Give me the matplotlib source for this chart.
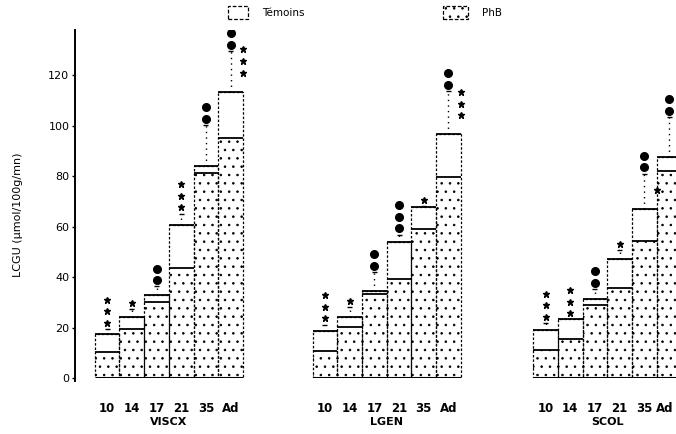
import matplotlib
matplotlib.use("Agg")
import matplotlib.pyplot as plt
from matplotlib.patches import Rectangle
from matplotlib.transforms import ScaledTranslation
import numpy as np

plt.rcParams['font.family'] = ['DejaVu Sans']
plt.rcParams['hatch.linewidth'] = 0.6

groups = ["VISCX", "LGEN", "SCOL"]
ages = ["10", "14", "17", "21", "35", "Ad"]

# Témoins (controls) and PhB means, LCGU µmol/100g/mn
temoins = {
    "VISCX": [17.4, 24.2, 32.8, 60.7, 84.2, 113.6],
    "LGEN":  [18.7, 24.0, 34.5, 53.9, 67.7, 96.7],
    "SCOL":  [19.2, 23.2, 31.2, 47.3, 67.0, 87.5],
}
phb = {
    "VISCX": [10.4, 19.6, 30.2, 43.6, 81.1, 95.1],
    "LGEN":  [10.8, 20.3, 33.5, 39.1, 58.9, 79.6],
    "SCOL":  [11.0, 15.5, 28.9, 35.7, 54.3, 82.2],
}
# error (dotted) above Témoins bars
err = {
    "VISCX": [2.0, 3.0, 3.5, 4.5, 16.0, 16.0],
    "LGEN":  [2.5, 4.0, 7.5, 3.0, 0.5, 17.0],
    "SCOL":  [2.5, 0.0, 4.0, 3.5, 14.0, 16.0],
}
# significance symbols: count of large dots and small stars per bar
n_dots = {
    "VISCX": [0, 0, 2, 0, 2, 2],
    "LGEN":  [0, 0, 2, 3, 0, 2],
    "SCOL":  [0, 0, 2, 0, 2, 2],
}
n_stars = {
    "VISCX": [3, 1, 0, 3, 0, 3],
    "LGEN":  [3, 1, 0, 0, 1, 3],
    "SCOL":  [3, 3, 0, 1, 1, 0],
}

W, H = 676, 434
fig = plt.figure(figsize=(W / 100, H / 100), dpi=100)
ax = fig.add_axes([75 / W, 56 / H, (W - 75) / W, 348 / H])

group_start = [0.8, 9.62, 18.55]
bw = 1.0
spacing = 4.6
gap = 2.5

centers_all = []
labels_all = []
for g, gname in enumerate(groups):
    x0 = group_start[g]
    xs = x0 + np.arange(len(ages)) * bw + bw / 2
    T = np.array(temoins[gname])
    P = np.array(phb[gname])
    # Témoins (open) bars
    ax.bar(xs, T, width=bw, color="white", linewidth=0, zorder=1)
    ax.bar(xs, T, width=bw, fill=False, edgecolor="black", linewidth=0.9,
           linestyle=(0, (2, 1.5)), zorder=4)
    # PhB stippled bars
    ax.bar(xs, P, width=bw, color="white", edgecolor="black", hatch="..",
           linewidth=0, zorder=2)
    # solid top lines
    ax.hlines(T, xs - bw / 2, xs + bw / 2, color="black", linewidth=1.3, zorder=5)
    ax.hlines(P, xs - bw / 2, xs + bw / 2, color="black", linewidth=1.3, zorder=5)
    # baseline
    ax.hlines(0, x0, x0 + len(ages) * bw, color="black", linewidth=2.2, zorder=6)
    for i in range(len(ages)):
        t = T[i]
        e = err[gname][i]
        nd = n_dots[gname][i]
        ns = n_stars[gname][i]
        xc = xs[i]
        two = nd > 0 and ns > 0
        # dotted error bar with cap
        if e > 0:
            ax.vlines(xc, t, t + e, color="black", linewidth=1.0,
                      linestyles=(0, (1, 3)), zorder=5)
            ax.hlines(t + e, xc - 0.1, xc + 0.1, color="black", linewidth=1.0, zorder=5)
        # main column
        ybase = t + e + gap
        if nd > 0:
            yy = ybase + np.arange(nd) * spacing
            ax.plot([xc] * nd, yy, "o", color="black", markersize=5.5,
                    linestyle="none", zorder=6)
        if ns > 0:
            if two:
                xs_s = xc + 0.5
                ys0 = t + 7.5
            else:
                xs_s = xc
                ys0 = ybase
            yy = ys0 + np.arange(ns) * spacing
            ax.plot([xs_s] * ns, yy, "*", color="black", markersize=4.5,
                    linestyle="none", zorder=6)
    centers_all.extend(xs)
    labels_all.extend(ages)
    ax.text(x0 + len(ages) * bw / 2, -44 / 348, gname, transform=ax.get_xaxis_transform(),
            ha="center", va="center", fontsize=8, fontweight="bold")

ax.set_xlim(0, (W - 75) / 24.7)
ax.set_ylim(0, 138)
ax.set_xticks(centers_all)
ax.set_xticklabels(labels_all, fontsize=8.5, fontweight="bold")
ax.tick_params(axis="x", length=0, pad=17)
last = ax.get_xticklabels()[-1]
last.set_transform(last.get_transform() + ScaledTranslation(-4 / 100, 0, fig.dpi_scale_trans))
ax.set_yticks(np.arange(0, 121, 20))
ax.set_yticklabels([str(v) for v in range(0, 121, 20)], fontsize=8)
ax.tick_params(axis="y", length=2, width=1, pad=2)
for s in ["top", "right", "bottom"]:
    ax.spines[s].set_visible(False)
ax.spines["left"].set_linewidth(1.4)
ax.spines["left"].set_bounds(-1, 138)
ax.patch.set_visible(False)

fig.text(18 / W, 1 - 215 / H, "LCGU (\u03bcmol/100g/mn)", rotation=90,
         ha="center", va="center", fontsize=8)

# legend
r1 = Rectangle((228 / W, 1 - 19 / H), 20 / W, 13 / H, transform=fig.transFigure,
               facecolor="white", edgecolor="black", linewidth=0.9,
               linestyle=(0, (3, 1.5)))
fig.add_artist(r1)
fig.text(262 / W, 1 - 13 / H, "Témoins", ha="left", va="center", fontsize=7.5)
r2 = Rectangle((443 / W, 1 - 19 / H), 25 / W, 13 / H, transform=fig.transFigure,
               facecolor="white", edgecolor="black", hatch="..", linewidth=0.9,
               linestyle=(0, (3, 1.5)))
fig.add_artist(r2)
fig.text(482 / W, 1 - 13 / H, "PhB", ha="left", va="center", fontsize=7.5)

fig.savefig("out.png", dpi=100)
